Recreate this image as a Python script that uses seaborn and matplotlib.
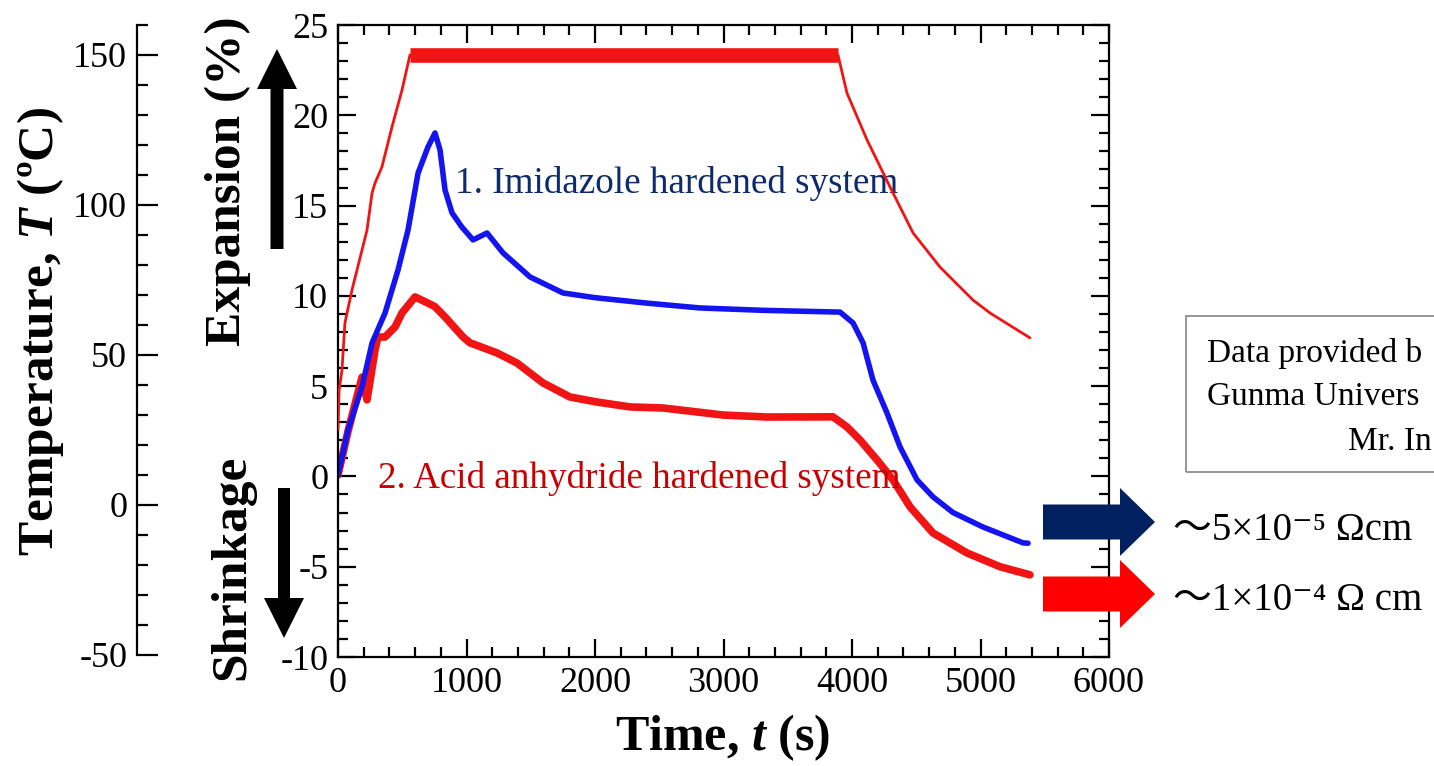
import matplotlib
matplotlib.use("Agg")
import matplotlib.pyplot as plt
from matplotlib.patches import Polygon, Rectangle
from matplotlib.ticker import MultipleLocator
import seaborn as sns

# temperature programme, deg C (thin red line, read on the far-left scale)
temp_t = [0, 8, 31, 54, 109, 187, 226, 265, 288, 342, 420, 498, 560,
          3891, 3961, 4117, 4296, 4475, 4685, 4942, 5074, 5385]
temp_T = [25, 38, 45, 60.7, 71.7, 85, 91.7, 104, 107.3, 112.7, 126, 138.3, 150,
          150, 137.3, 121.7, 106, 90.7, 79.3, 68.3, 64, 55.7]
# isothermal hold (controller ripple shows as a thick band)
hold_t = [560, 3891]
hold_T = [150, 150]

# 1. imidazole hardened system, expansion (%)
imid_t = [0, 78, 187, 265, 366, 467, 545, 623, 700, 755, 794, 833, 887, 965,
          1051, 1160, 1284, 1494, 1751, 2000, 2400, 2817, 3300, 3907, 4008,
          4086, 4163, 4272, 4374, 4506, 4630, 4786, 5019, 5331, 5370]
imid_v = [0.08, 2.57, 4.96, 7.39, 9.05, 11.43, 13.65, 16.8, 18.24, 19.02, 18.08,
          15.86, 14.6, 13.8, 13.1, 13.48, 12.38, 11.05, 10.16, 9.9, 9.6, 9.33,
          9.2, 9.1, 8.5, 7.4, 5.34, 3.52, 1.63, -0.19, -1.13, -2.0, -2.8, -3.68, -3.7]

# 2. acid anhydride hardened system, expansion (%)
acid_t = [0, 78, 187, 226, 288, 311, 366, 444, 498, 599, 700, 755, 833, 973,
          1027, 1237, 1393, 1595, 1805, 2016, 2272, 2529, 2794, 2996, 3339,
          3852, 3961, 4062, 4195, 4319, 4452, 4630, 4895, 5152, 5385]
acid_v = [0.08, 2.5, 5.5, 4.24, 7.0, 7.72, 7.72, 8.28, 9.05, 9.94, 9.6, 9.4,
          8.83, 7.72, 7.4, 6.84, 6.28, 5.18, 4.4, 4.12, 3.85, 3.79, 3.57, 3.4,
          3.29, 3.3, 2.74, 2.02, 0.91, -0.19, -1.69, -3.13, -4.24, -5.0, -5.45]

labels_res = ["～5×10⁻⁵ Ωcm", "～1×10⁻⁴ Ω cm"]
# credit box lines, as far as the slide shows them
credit = ["Data provided b", "Gunma Univers", "Mr. In"]

W, H = 1434, 766
RED = "#f01414"
BLUE = "#1414f0"
NAVY = "#0d2b6b"


def fx(px):
    return px / W


def fy(py):
    return 1 - py / H


sns.set_style("ticks")
plt.rcParams["font.family"] = ["Liberation Serif", "DejaVu Serif", "Noto Sans CJK JP"]
plt.rcParams["axes.unicode_minus"] = False
plt.rcParams["mathtext.fontset"] = "custom"
plt.rcParams["mathtext.it"] = "Liberation Serif:italic:bold"
for k in ("text.color", "axes.edgecolor", "axes.labelcolor", "xtick.color", "ytick.color"):
    plt.rcParams[k] = "black"

fig = plt.figure(figsize=(W / 100, H / 100), dpi=100)
ax = fig.add_axes([fx(338), fy(657), (1109 - 338) / W, (657 - 25) / H])
tx = ax.twinx()

sns.lineplot(x=acid_t, y=acid_v, ax=ax, color=RED, lw=5.5, sort=False, estimator=None)
sns.lineplot(x=imid_t, y=imid_v, ax=ax, color=BLUE, lw=4, sort=False, estimator=None)
sns.lineplot(x=temp_t, y=temp_T, ax=tx, color=RED, lw=2, sort=False, estimator=None)
sns.lineplot(x=hold_t, y=hold_T, ax=tx, color=RED, lw=10.5, sort=False,
             estimator=None, solid_capstyle="butt")

ax.set_xlim(0, 6000)
ax.set_ylim(-10, 25)
ax.xaxis.set_major_locator(MultipleLocator(1000))
ax.xaxis.set_minor_locator(MultipleLocator(200))
ax.yaxis.set_major_locator(MultipleLocator(5))
ax.yaxis.set_minor_locator(MultipleLocator(1))
ax.tick_params(which="both", direction="in", top=True, right=True,
               labelright=False, width=1.6, labelsize=26, pad=7, colors="black")
ax.tick_params(which="major", length=13)
ax.tick_params(which="minor", length=7)
for s in ax.spines.values():
    s.set_visible(True)
    s.set_linewidth(1.6)
    s.set_color("black")
ax.set_xlabel("")
ax.set_ylabel("")

tx.set_ylim(-50.67, 160)
for k in ("right", "top", "bottom"):
    tx.spines[k].set_visible(False)
tx.spines["left"].set_visible(True)
tx.spines["left"].set_position(("outward", (338 - 137) * 0.72))
tx.spines["left"].set_bounds(-50, 160)
tx.spines["left"].set_linewidth(1.6)
tx.spines["left"].set_color("black")
tx.yaxis.tick_left()
tx.yaxis.set_label_position("left")
tx.set_yticks([-50, 0, 50, 100, 150])
tx.yaxis.set_minor_locator(MultipleLocator(10))
tx.tick_params(axis="y", which="both", direction="in", left=True, right=False,
               width=1.6, labelsize=26, pad=7, colors="black")
tx.tick_params(axis="y", which="major", length=15)
tx.tick_params(axis="y", which="minor", length=8)
tx.set_ylabel("")

# axis titles
fig.text(fx(41), fy(332), "Temperature, $\\mathit{T}$ (ºC)", rotation=90,
         ha="center", va="center", fontsize=37, fontweight="bold")
fig.text(fx(228), fy(181), "Expansion (%)", rotation=90, ha="center",
         va="center", fontsize=37, fontweight="bold")
fig.text(fx(232), fy(567), "Shrinkage", rotation=90, ha="center",
         va="center", fontsize=37, fontweight="bold")
fig.text(fx(722), fy(738), "Time, $\\mathit{t}$ (s)", ha="center", va="center",
         fontsize=36, fontweight="bold")

# series labels
ax.text(910, 15.7, "1. Imidazole hardened system", color=NAVY,
        fontsize=26.7, va="baseline")
ax.text(311, -0.64, "2. Acid anhydride hardened system", color="#c80000",
        fontsize=26.7, va="baseline")


def vert_arrow(xc, y_tail, y_base, y_tip, sw, hw):
    pts = [(xc - sw / 2, y_tail), (xc - sw / 2, y_base), (xc - hw / 2, y_base),
           (xc, y_tip), (xc + hw / 2, y_base), (xc + sw / 2, y_base),
           (xc + sw / 2, y_tail)]
    fig.add_artist(Polygon([(fx(a), fy(b)) for a, b in pts], closed=True,
                           transform=fig.transFigure, fc="black", ec="none"))


def horiz_arrow(x0, x_base, x1, yc, sh, hh, color):
    pts = [(x0, yc - sh / 2), (x_base, yc - sh / 2), (x_base, yc - hh / 2),
           (x1, yc), (x_base, yc + hh / 2), (x_base, yc + sh / 2),
           (x0, yc + sh / 2)]
    fig.add_artist(Polygon([(fx(a), fy(b)) for a, b in pts], closed=True,
                           transform=fig.transFigure, fc=color, ec="none"))


vert_arrow(277, 249, 89, 49, 13, 40)
vert_arrow(284, 488, 598, 638, 12, 40)

horiz_arrow(1043, 1120, 1155, 522, 35, 68, "#002060")
horiz_arrow(1043, 1120, 1155, 594, 35, 68, "#ff0000")
fig.text(fx(1173), fy(540), labels_res[0], fontsize=28, va="baseline")
fig.text(fx(1173), fy(610), labels_res[1], fontsize=28, va="baseline")

# credit box, running off the right edge
fig.add_artist(Rectangle((fx(1186), fy(472)), (1500 - 1186) / W, (472 - 316) / H,
                         transform=fig.transFigure, fill=False, ec="#8c8c8c", lw=1.3))
fig.text(fx(1207), fy(362), credit[0], fontsize=24, va="baseline")
fig.text(fx(1207), fy(405), credit[1], fontsize=24, va="baseline")
fig.text(fx(1348), fy(450), credit[2], fontsize=24, va="baseline")

fig.savefig("out.png", dpi=100)
plt.close(fig)
